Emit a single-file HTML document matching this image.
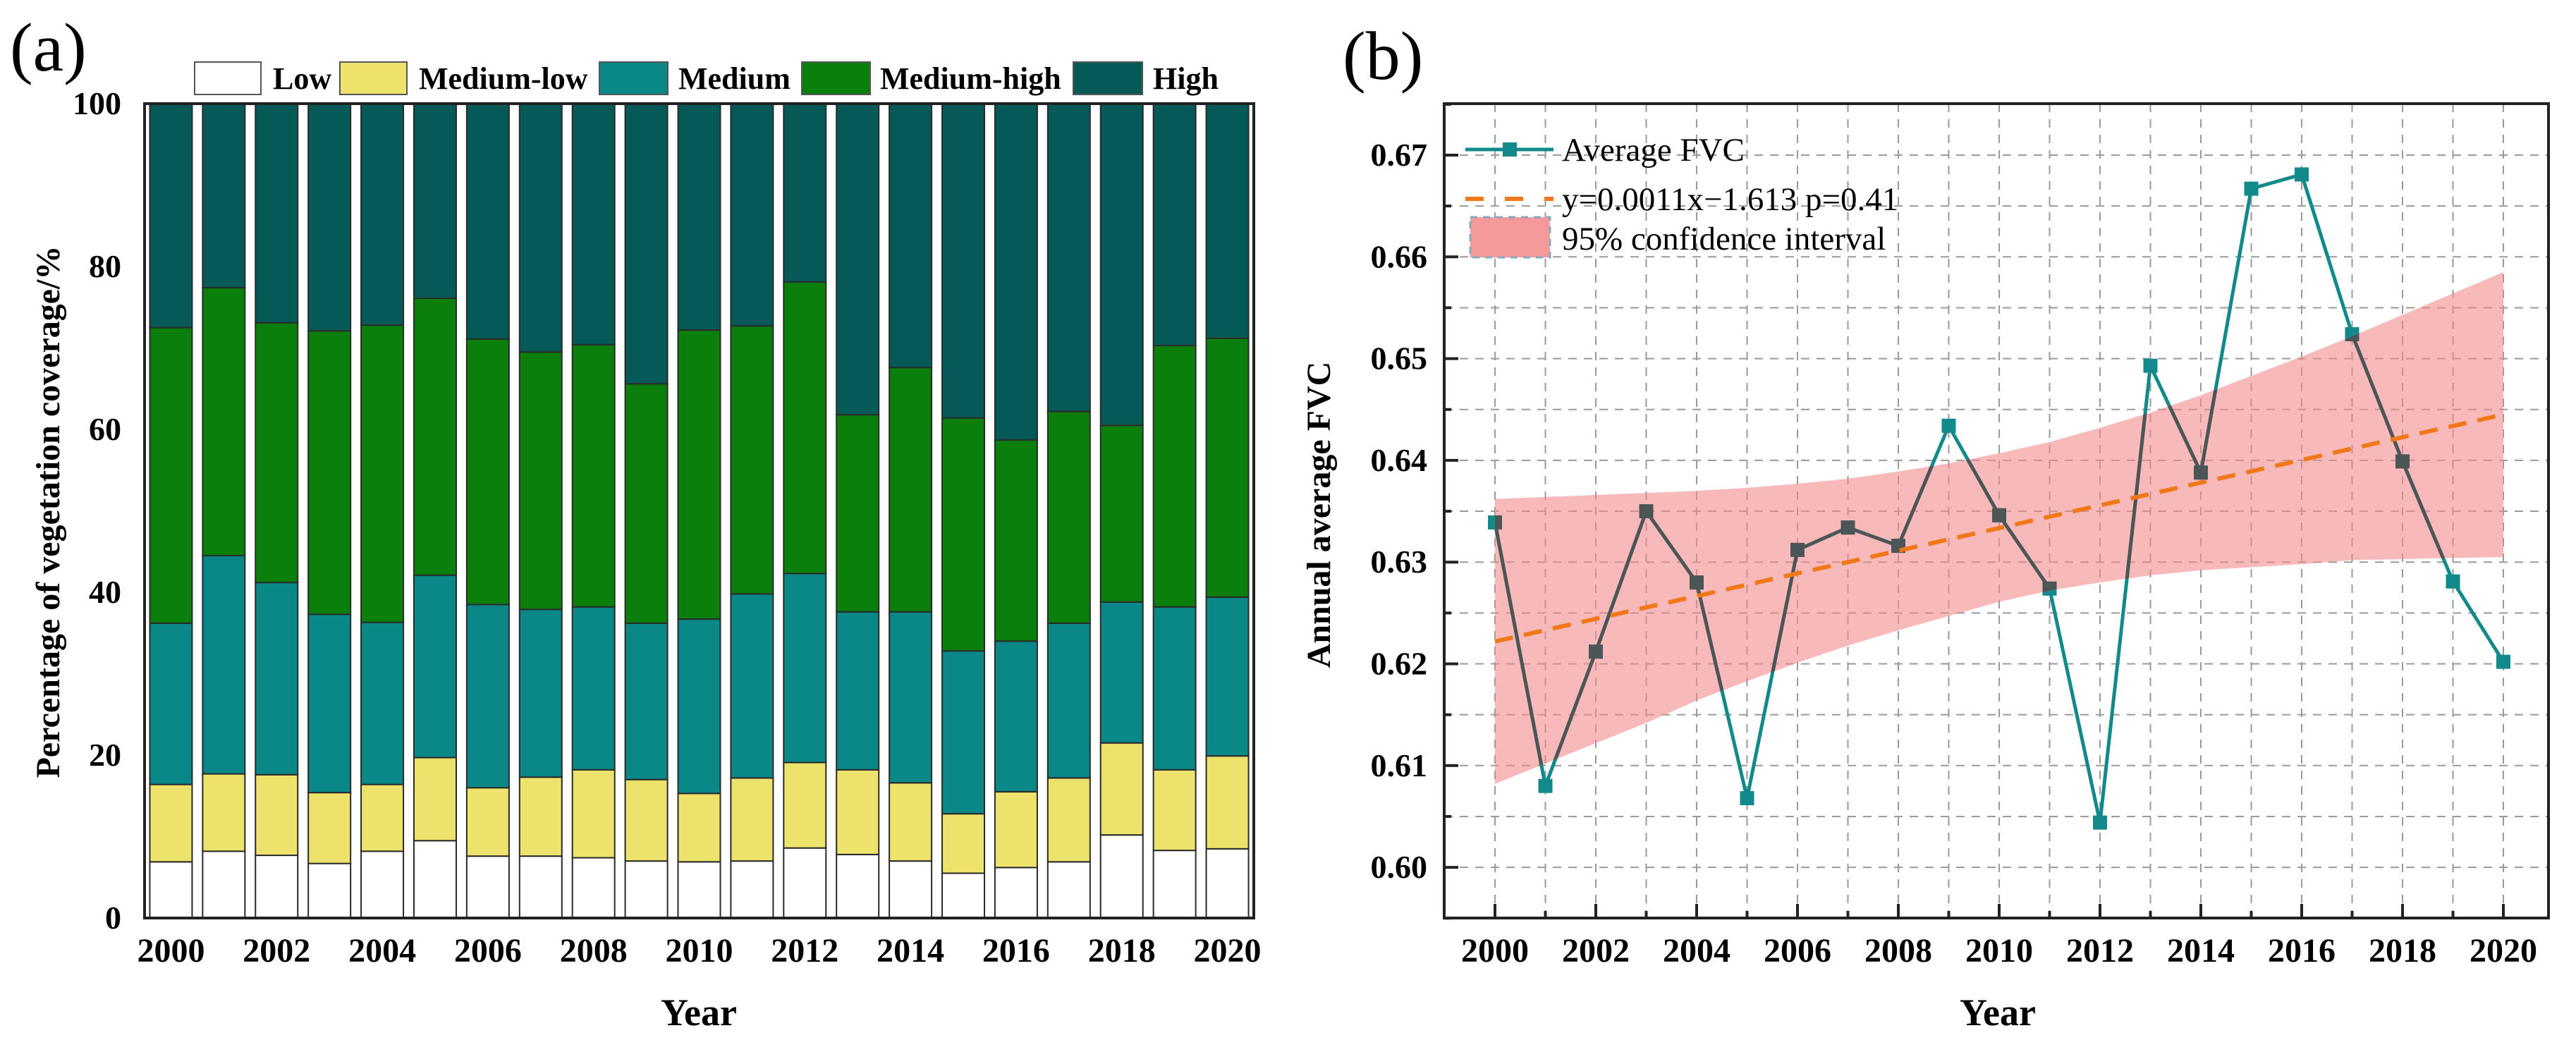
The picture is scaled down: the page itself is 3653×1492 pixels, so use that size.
<!DOCTYPE html>
<html><head><meta charset="utf-8"><style>
html,body{margin:0;padding:0;background:#fff;}
svg text{font-family:"Liberation Serif",serif;}
</style></head><body>
<svg id="fig" width="3653" height="1487" viewBox="0 0 3653 1487" xmlns="http://www.w3.org/2000/svg">
<defs>
<clipPath id="bandClip"><path id="bandClipPath" d=""/></clipPath>
</defs>
<g id="pa"></g>
<g id="pb"></g>
</svg>
<script>
// ---------- Panel (a) data ----------
const yearsA = [2000,2001,2002,2003,2004,2005,2006,2007,2008,2009,2010,2011,2012,2013,2014,2015,2016,2017,2018,2019,2020];
const lowPct = [6.9,8.2,7.7,6.7,8.2,9.5,7.6,7.6,7.4,7.0,6.9,7.0,8.6,7.8,7.0,5.5,6.2,6.9,10.2,8.3,8.5];
const mediumLowPct = [9.5,9.5,9.9,8.7,8.2,10.2,8.4,9.7,10.8,10.0,8.4,10.2,10.5,10.4,9.6,7.3,9.3,10.3,11.3,9.9,11.4];
const mediumPct = [19.8,26.8,23.6,21.9,19.9,22.4,22.5,20.6,20.0,19.2,21.4,22.6,23.2,19.4,21.0,20.0,18.5,19.0,17.3,20.0,19.5];
const mediumHighPct = [36.3,32.9,31.9,34.8,36.5,34.0,32.6,31.6,32.2,29.4,35.5,32.9,35.8,24.2,30.0,28.6,24.7,26.0,21.7,32.1,31.8];
const highPct = [27.5,22.6,26.9,27.9,27.2,23.9,28.9,30.5,29.6,34.4,27.8,27.3,21.9,38.2,32.4,38.6,41.3,37.8,39.5,29.7,28.8];
const catNames = ['Low','Medium-low','Medium','Medium-high','High'];
const yTicksA = [0,20,40,60,80,100];

// ---------- Panel (b) data ----------
const yearsB = [2000,2001,2002,2003,2004,2005,2006,2007,2008,2009,2010,2011,2012,2013,2014,2015,2016,2017,2018,2019,2020];
const fvc = [0.6339,0.6080,0.6212,0.6350,0.6280,0.6068,0.6312,0.6334,0.6316,0.6434,0.6346,0.6274,0.6044,0.6493,0.6388,0.6667,0.6681,0.6524,0.6399,0.6281,0.6202];
const trendStartEnd = [0.6222,0.6445];
const ciUpper = [0.6362,0.6364,0.6366,0.6368,0.6370,0.6373,0.6377,0.6382,0.6389,0.6397,0.6407,0.6418,0.6432,0.6447,0.6464,0.6483,0.6502,0.6522,0.6543,0.6564,0.6585];
const ciLower = [0.6082,0.6102,0.6122,0.6142,0.6164,0.6183,0.6201,0.6218,0.6233,0.6247,0.6261,0.6272,0.6280,0.6287,0.6292,0.6295,0.6298,0.6302,0.6303,0.6304,0.6305];
const yTicksB = [0.60,0.61,0.62,0.63,0.64,0.65,0.66,0.67];
const xLabelsB = [2000,2002,2004,2006,2008,2010,2012,2014,2016,2018,2020];

const NS='http://www.w3.org/2000/svg';
function mk(parent,tag,attrs,txt){const e=document.createElementNS(NS,tag);for(const k in attrs)e.setAttribute(k,attrs[k]);if(txt!==undefined)e.textContent=txt;parent.appendChild(e);return e;}

// ================= Panel A =================
const pa=document.getElementById('pa');
const A={l:205,r:1778,t:147,b:1302};
const pitchA=(A.r-A.l)/yearsA.length;
const xA=i=>A.l+pitchA*(i+0.5);
const yA=v=>A.b-(v/100)*(A.b-A.t);
const colors=['#ffffff','#ece26c','#0a8888','#0b7f0b','#055a58'];
const series=[lowPct,mediumLowPct,mediumPct,mediumHighPct,highPct];
const bw=60;
const barsG=mk(pa,'g',{});


yearsA.forEach((yr,i)=>{
  let cum=0;
  series.forEach((s,k)=>{
    const y0=yA(cum), y1=yA(Math.min(100,cum+s[i]));
    const r=mk(barsG,'rect',{x:xA(i)-bw/2,y:y1,width:bw,height:y0-y1,fill:colors[k],stroke:'#2a2a2a','stroke-width':2});
    
    
    cum+=s[i];
  });
});
const frameA=mk(pa,'rect',{x:A.l,y:A.t,width:A.r-A.l,height:A.b-A.t,fill:'none',stroke:'#222','stroke-width':4});


yTicksA.forEach(v=>{
  const t=mk(pa,'text',{x:172,y:yA(v)+15,'text-anchor':'end','font-size':46,'font-weight':'bold'},String(v));
  
  
});
yearsA.forEach((yr,i)=>{
  if(i%2===0){
    const t=mk(pa,'text',{x:xA(i),y:1364,'text-anchor':'middle','font-size':48,'font-weight':'bold'},String(yr));
    
    
  }
});
const legA=[[276,370,387],[482,577,594],[850,947,962],[1137,1234,1248],[1522,1620,1635]];
legA.forEach((p,k)=>{
  const r=mk(pa,'rect',{x:p[0],y:88,width:p[1]-p[0],height:46,fill:colors[k],stroke:'#555','stroke-width':2});
  
  
  const t=mk(pa,'text',{x:p[2],y:126,'font-size':44,'font-weight':'bold'},catNames[k]);
  
  
});
let t;
t=mk(pa,'text',{x:14,y:100,'font-size':98},'(a)');

t=mk(pa,'text',{x:0,y:0,'font-size':48,'font-weight':'bold','text-anchor':'middle',transform:'translate(84,726) rotate(-90)'},'Percentage of vegetation coverage/%');

t=mk(pa,'text',{x:991,y:1454,'font-size':54,'font-weight':'bold','text-anchor':'middle'},'Year');


// ================= Panel B =================
const pb=document.getElementById('pb');
const B={l:2048,r:3614,t:147,b:1302};
const x0B=2120, pitchB=71.5;
const xB=yr=>x0B+(yr-2000)*pitchB;
const yB=v=>220+(0.67-v)*14430;
const gridG=mk(pb,'g',{stroke:'#9a9a9a','stroke-width':2,'stroke-dasharray':'12,10'});


yearsB.forEach(yr=>{mk(gridG,'line',{x1:xB(yr),x2:xB(yr),y1:B.t,y2:B.b});});
for(let v=0.595;v<=0.6751;v+=0.005){const y=yB(v);if(y>B.t+2&&y<B.b-2)mk(gridG,'line',{x1:B.l,x2:B.r,y1:y,y2:y});}
const pts=yearsB.map((yr,i)=>xB(yr)+','+yB(fvc[i])).join(' ');
const line=mk(pb,'polyline',{points:pts,fill:'none',stroke:'#12898a','stroke-width':5});


const mG=mk(pb,'g',{fill:'#12898a'});


yearsB.forEach((yr,i)=>{const m=mk(mG,'rect',{x:xB(yr)-10,y:yB(fvc[i])-10,width:20,height:20});
  });
let bd='M'+yearsB.map((yr,i)=>xB(yr)+','+yB(ciUpper[i])).join(' L');
bd+=' L'+yearsB.slice().reverse().map((yr,j)=>{const i=yearsB.length-1-j;return xB(yr)+','+yB(ciLower[i]);}).join(' L')+' Z';
document.getElementById('bandClipPath').setAttribute('d',bd);
const band=mk(pb,'path',{d:bd,fill:'#f28a8a','fill-opacity':0.6});


const gl=mk(pb,'g',{'clip-path':'url(#bandClip)'});


mk(gl,'polyline',{points:pts,fill:'none',stroke:'#4c5656','stroke-width':5});
yearsB.forEach((yr,i)=>{mk(gl,'rect',{x:xB(yr)-10,y:yB(fvc[i])-10,width:20,height:20,fill:'#4c5656'});});
const tr=mk(pb,'line',{x1:xB(2000),y1:yB(trendStartEnd[0]),x2:xB(2020),y2:yB(trendStartEnd[1]),stroke:'#f07818','stroke-width':6,'stroke-dasharray':'26,16'});


const frameB=mk(pb,'rect',{x:B.l,y:B.t,width:B.r-B.l,height:B.b-B.t,fill:'none',stroke:'#222','stroke-width':4});


const tkG=mk(pb,'g',{stroke:'#222','stroke-width':4});


yearsB.forEach((yr,i)=>{const L=i%2===0?20:10;mk(tkG,'line',{x1:xB(yr),x2:xB(yr),y1:B.b,y2:B.b-L});});
for(let v=0.595;v<=0.6751;v+=0.005){const y=yB(v);const maj=Math.abs(v*100-Math.round(v*100))<0.01;mk(tkG,'line',{x1:B.l,x2:B.l+(maj?20:10),y1:y,y2:y});}
yTicksB.forEach(v=>{
  const tt=mk(pb,'text',{x:2024,y:yB(v)+15,'text-anchor':'end','font-size':46,'font-weight':'bold'},v.toFixed(2));
  
  
});
xLabelsB.forEach(yr=>{
  const tt=mk(pb,'text',{x:xB(yr),y:1364,'text-anchor':'middle','font-size':48,'font-weight':'bold'},String(yr));
  
  
});
const lg=mk(pb,'g',{});


mk(lg,'line',{x1:2078,x2:2203,y1:212,y2:212,stroke:'#12898a','stroke-width':5});
mk(lg,'rect',{x:2131,y:202,width:20,height:20,fill:'#12898a'});
mk(lg,'text',{x:2215,y:228,'font-size':47},'Average FVC');
mk(lg,'line',{x1:2078,x2:2203,y1:282,y2:282,stroke:'#f07818','stroke-width':6,'stroke-dasharray':'26,30'});
mk(lg,'text',{x:2215,y:298,'font-size':47},'y=0.0011x\u22121.613 p=0.41');
mk(lg,'rect',{x:2085,y:308,width:113,height:57,fill:'#f49a9a',stroke:'#8aa6c0','stroke-width':3,'stroke-dasharray':'10,8'});
mk(lg,'text',{x:2215,y:354,'font-size':47},'95% confidence interval');
t=mk(pb,'text',{x:1904,y:112,'font-size':98},'(b)');

t=mk(pb,'text',{x:0,y:0,'font-size':48,'font-weight':'bold','text-anchor':'middle',transform:'translate(1886,730) rotate(-90)'},'Annual average FVC');

t=mk(pb,'text',{x:2833,y:1454,'font-size':54,'font-weight':'bold','text-anchor':'middle'},'Year');

</script>
</body></html>
